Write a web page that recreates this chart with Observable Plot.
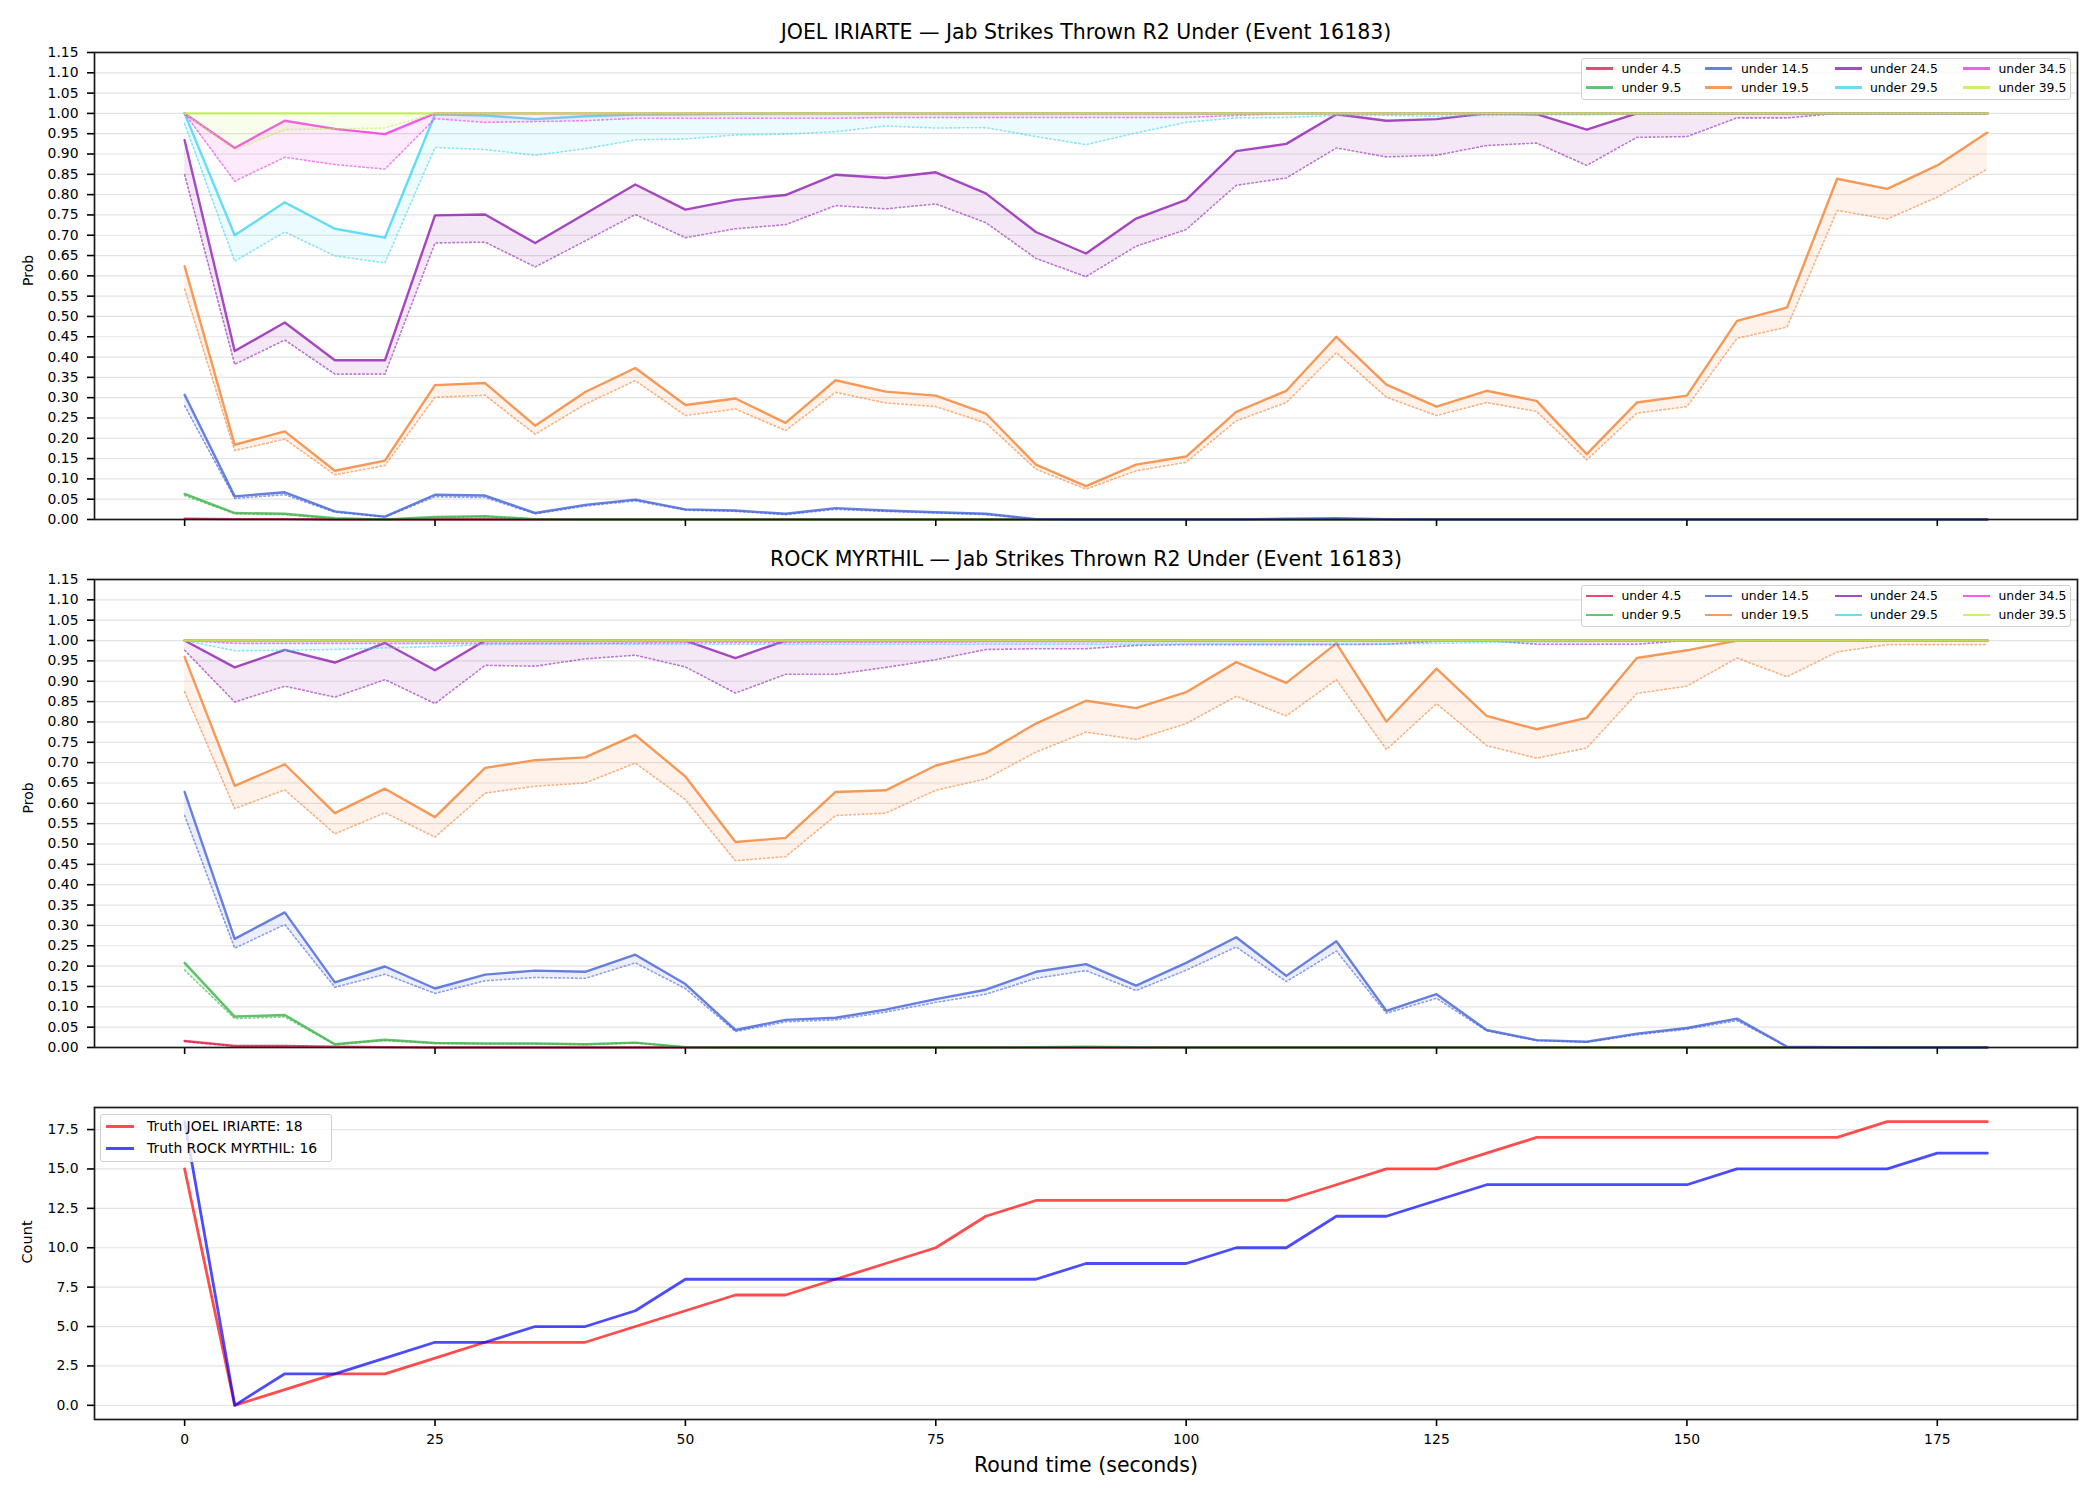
<!DOCTYPE html>
<html>
<head>
<meta charset="utf-8">
<script src="https://cdn.jsdelivr.net/npm/d3@7"></script>
<script src="https://cdn.jsdelivr.net/npm/@observablehq/plot@0.6"></script>
<style>
  body { margin: 0; background: #fff; }
  #root { position: relative; width: 2100px; height: 1500px; background: #fff; overflow: hidden; font-family: "DejaVu Sans", sans-serif; }
  .panel { position: absolute; left: 0; }
  .panel svg { display: block; }
  .legend-box { position: absolute; background: rgba(255,255,255,0.8); border: 1.5px solid #d0d0d0; border-radius: 3px; box-sizing: border-box; }
  .legend-line { position: absolute; height: 2.5px; }
  .legend-text { position: absolute; white-space: nowrap; line-height: 1; transform: translateY(-50%); color: #000; font-family: "DejaVu Sans", sans-serif; }
</style>
</head>
<body>
<div id="root"></div>
<script>
// ---------------- DATA ----------------
const roundTime = [0,5,10,15,20,25,30,35,40,45,50,55,60,65,70,75,80,85,90,95,100,105,110,115,120,125,130,135,140,145,150,155,160,165,170,175,180];
const seriesLabels = ["under 4.5","under 9.5","under 14.5","under 19.5","under 24.5","under 29.5","under 34.5","under 39.5"];
const xTicks = [0,25,50,75,100,125,150,175];
const probTicks = d3.range(0, 24).map(i => +(i * 0.05).toFixed(2));
const countTicks = [0,2.5,5,7.5,10,12.5,15,17.5];

const fighterA = "JOEL IRIARTE";
const fighterB = "ROCK MYRTHIL";
const marketName = "Jab Strikes Thrown R2 Under (Event 16183)";

// JOEL IRIARTE (top panel): solid = upper prob, dotted = lower prob
const joel_u4_5_hi  = [0.002,0.001,0.001,0,0,0,0,0,0,0, 0,0,0,0,0,0,0,0,0,0, 0,0,0,0,0,0,0,0,0,0, 0,0,0,0,0,0,0];
const joel_u4_5_lo  = [0.002,0.001,0.001,0,0,0,0,0,0,0, 0,0,0,0,0,0,0,0,0,0, 0,0,0,0,0,0,0,0,0,0, 0,0,0,0,0,0,0];
const joel_u9_5_hi  = [0.063,0.016,0.014,0.003,0.000,0.006,0.008,0.001,0,0, 0,0,0,0,0,0,0,0,0,0, 0,0,0,0,0,0,0,0,0,0, 0,0,0,0,0,0,0];
const joel_u9_5_lo  = [0.059,0.014,0.012,0.002,0.000,0.005,0.007,0.001,0,0, 0,0,0,0,0,0,0,0,0,0, 0,0,0,0,0,0,0,0,0,0, 0,0,0,0,0,0,0];
const joel_u14_5_hi = [0.307,0.057,0.067,0.020,0.007,0.061,0.059,0.016,0.036,0.049, 0.025,0.022,0.014,0.028,0.022,0.018,0.014,0.001,0,0, 0,0,0.002,0.003,0.001,0,0,0,0,0, 0,0,0,0,0,0,0];
const joel_u14_5_lo = [0.280,0.052,0.061,0.018,0.006,0.056,0.054,0.014,0.033,0.046, 0.023,0.020,0.012,0.025,0.020,0.016,0.012,0.001,0,0, 0,0,0.001,0.002,0,0,0,0,0,0, 0,0,0,0,0,0,0];
const joel_u19_5_hi = [0.624,0.184,0.217,0.120,0.145,0.331,0.336,0.231,0.314,0.373, 0.282,0.298,0.238,0.343,0.315,0.305,0.261,0.135,0.082,0.135, 0.155,0.265,0.317,0.450,0.332,0.278,0.317,0.292,0.161,0.288, 0.305,0.489,0.522,0.839,0.814,0.872,0.953];
const joel_u19_5_lo = [0.567,0.170,0.198,0.110,0.133,0.301,0.306,0.210,0.284,0.342, 0.256,0.272,0.219,0.313,0.287,0.278,0.238,0.124,0.075,0.120, 0.141,0.243,0.288,0.411,0.301,0.256,0.288,0.266,0.147,0.262, 0.278,0.446,0.474,0.761,0.740,0.794,0.863];
const joel_u24_5_hi = [0.934,0.415,0.485,0.392,0.392,0.749,0.751,0.681,0.753,0.825, 0.763,0.787,0.799,0.849,0.841,0.855,0.803,0.708,0.655,0.741, 0.787,0.907,0.925,0.998,0.982,0.986,1.0,0.998,0.960,1.0, 1,1,1,1,1,1,1];
const joel_u24_5_lo = [0.849,0.382,0.442,0.358,0.358,0.681,0.683,0.622,0.686,0.751, 0.694,0.716,0.726,0.773,0.765,0.777,0.731,0.643,0.598,0.673, 0.714,0.823,0.841,0.915,0.893,0.897,0.921,0.927,0.872,0.941, 0.943,0.989,0.989,1,1,1,1];
const joel_u29_5_hi = [1.0,0.700,0.781,0.716,0.694,0.998,0.995,0.986,0.993,0.997, 0.998,0.999,1,1,1,1,1,1,1,1, 1,1,1,1,1,1,1,1,1,1, 1,1,1,1,1,1,1];
const joel_u29_5_lo = [0.975,0.636,0.708,0.649,0.632,0.916,0.911,0.897,0.913,0.935, 0.937,0.947,0.949,0.955,0.969,0.964,0.965,0.943,0.923,0.952, 0.978,0.989,0.990,0.995,0.995,0.993,0.995,0.997,0.997,0.998, 1,1,1,1,1,1,1];
const joel_u34_5_hi = [1.0,0.915,0.982,0.962,0.949,1,1,1,1,1, 1,1,1,1,1,1,1,1,1,1, 1,1,1,1,1,1,1,1,1,1, 1,1,1,1,1,1,1];
const joel_u34_5_lo = [1.0,0.833,0.892,0.874,0.863,0.987,0.978,0.980,0.982,0.988, 0.988,0.988,0.988,0.988,0.990,0.990,0.990,0.990,0.990,0.990, 0.990,0.995,1,1,1,1,1,1,1,1, 1,1,1,1,1,1,1];
const joel_u39_5_hi = [1,1,1,1,1,1,1,1,1,1, 1,1,1,1,1,1,1,1,1,1, 1,1,1,1,1,1,1,1,1,1, 1,1,1,1,1,1,1];
const joel_u39_5_lo = [1.0,0.911,0.960,0.962,0.964,1,1,1,1,1, 1,1,1,1,1,1,1,1,1,1, 1,1,1,1,1,1,1,1,1,1, 1,1,1,1,1,1,1];

// ROCK MYRTHIL (middle panel)
const rock_u4_5_hi  = [0.016,0.004,0.004,0.002,0.001,0,0,0,0,0, 0,0,0,0,0,0,0,0,0,0, 0,0,0,0,0,0,0,0,0,0, 0,0,0,0,0,0,0];
const rock_u4_5_lo  = [0.015,0.003,0.003,0.001,0.001,0,0,0,0,0, 0,0,0,0,0,0,0,0,0,0, 0,0,0,0,0,0,0,0,0,0, 0,0,0,0,0,0,0];
const rock_u9_5_hi  = [0.208,0.076,0.080,0.008,0.019,0.011,0.010,0.010,0.008,0.012, 0.001,0,0,0,0,0,0,0.001,0.002,0.001, 0,0,0,0,0,0,0,0,0,0, 0,0,0,0,0,0,0];
const rock_u9_5_lo  = [0.190,0.071,0.075,0.007,0.017,0.010,0.009,0.009,0.007,0.011, 0.001,0,0,0,0,0,0,0,0.001,0, 0,0,0,0,0,0,0,0,0,0, 0,0,0,0,0,0,0];
const rock_u14_5_hi = [0.628,0.267,0.332,0.160,0.199,0.145,0.179,0.189,0.186,0.228, 0.156,0.043,0.068,0.073,0.093,0.119,0.142,0.186,0.205,0.152, 0.208,0.271,0.176,0.261,0.090,0.131,0.043,0.018,0.014,0.034, 0.048,0.071,0.002,0.001,0,0,0];
const rock_u14_5_lo = [0.570,0.244,0.302,0.148,0.180,0.133,0.164,0.172,0.170,0.208, 0.145,0.039,0.063,0.068,0.087,0.111,0.131,0.170,0.189,0.140, 0.190,0.247,0.162,0.237,0.084,0.121,0.041,0.017,0.013,0.031, 0.045,0.066,0.002,0.001,0,0,0];
const rock_u19_5_hi = [0.960,0.643,0.696,0.576,0.636,0.566,0.687,0.706,0.713,0.768, 0.666,0.505,0.515,0.628,0.632,0.693,0.724,0.796,0.852,0.834, 0.873,0.947,0.896,0.993,0.801,0.931,0.815,0.782,0.810,0.957, 0.976,1,1,1,1,1,1];
const rock_u19_5_lo = [0.874,0.587,0.633,0.525,0.577,0.517,0.625,0.642,0.650,0.699, 0.609,0.459,0.469,0.570,0.576,0.632,0.660,0.726,0.775,0.757, 0.796,0.863,0.815,0.904,0.732,0.845,0.742,0.711,0.736,0.870, 0.888,0.957,0.911,0.972,0.990,0.990,0.990];
const rock_u24_5_hi = [1.0,0.934,0.977,0.946,0.994,0.927,1,1,1,1, 1,0.957,1,1,1,1,1,1,1,1, 1,1,1,1,1,1,1,1,1,1, 1,1,1,1,1,1,1];
const rock_u24_5_lo = [0.976,0.849,0.888,0.861,0.904,0.845,0.939,0.937,0.955,0.964, 0.935,0.871,0.917,0.917,0.934,0.953,0.978,0.980,0.980,0.988, 0.990,0.990,0.990,0.990,0.991,0.998,1,0.991,0.991,0.991, 1,1,1,1,1,1,1];
const rock_u29_5_hi = [1,1,1,1,1,1,1,1,1,1, 1,1,1,1,1,1,1,1,1,1, 1,1,1,1,1,1,1,1,1,1, 1,1,1,1,1,1,1];
const rock_u29_5_lo = [1.0,0.975,0.976,0.978,0.982,0.985,0.990,0.991,0.991,0.991, 0.991,0.991,0.991,0.991,0.991,0.991,0.991,0.991,0.991,0.991, 0.991,0.991,0.991,0.991,0.991,0.993,0.995,0.997,0.998,0.999, 1,1,1,1,1,1,1];
const rock_u34_5_hi = [1,1,1,1,1,1,1,1,1,1, 1,1,1,1,1,1,1,1,1,1, 1,1,1,1,1,1,1,1,1,1, 1,1,1,1,1,1,1];
const rock_u34_5_lo = [1.0,0.993,0.993,0.993,0.993,0.993,0.993,0.993,0.993,0.994, 0.995,0.995,0.995,0.996,0.996,0.996,0.997,0.997,0.997,0.998, 0.998,0.998,0.998,0.999,0.999,0.999,1,1,1,1, 1,1,1,1,1,1,1];
const rock_u39_5_hi = [1,1,1,1,1,1,1,1,1,1, 1,1,1,1,1,1,1,1,1,1, 1,1,1,1,1,1,1,1,1,1, 1,1,1,1,1,1,1];
const rock_u39_5_lo = [1,1,1,1,1,1,1,1,1,1, 1,1,1,1,1,1,1,1,1,1, 1,1,1,1,1,1,1,1,1,1, 1,1,1,1,1,1,1];

// Truth counts (bottom panel)
const truthJoel = [15,0,1,2,2,3,4,4,4,5, 6,7,7,8,9,10,12,13,13,13, 13,13,13,14,15,15,16,17,17,17, 17,17,17,17,18,18,18];
const truthRock = [18,0,2,2,3,4,4,5,5,6, 8,8,8,8,8,8,8,8,9,9, 9,10,10,12,12,13,14,14,14,14, 14,15,15,15,15,16,16];
const truthFinalJoel = 18;
const truthFinalRock = 16;

// ---------------- STYLE ----------------
const palette = ["#e6194b","#3cb44b","#4363d8","#f58231","#911eb4","#42d4f4","#f032e6","#bfef45"];
const FONT = "DejaVu Sans";
const W = 2100, ML = 94, MR = 23;

const joelHi = [joel_u4_5_hi, joel_u9_5_hi, joel_u14_5_hi, joel_u19_5_hi, joel_u24_5_hi, joel_u29_5_hi, joel_u34_5_hi, joel_u39_5_hi];
const joelLo = [joel_u4_5_lo, joel_u9_5_lo, joel_u14_5_lo, joel_u19_5_lo, joel_u24_5_lo, joel_u29_5_lo, joel_u34_5_lo, joel_u39_5_lo];
const rockHi = [rock_u4_5_hi, rock_u9_5_hi, rock_u14_5_hi, rock_u19_5_hi, rock_u24_5_hi, rock_u29_5_hi, rock_u34_5_hi, rock_u39_5_hi];
const rockLo = [rock_u4_5_lo, rock_u9_5_lo, rock_u14_5_lo, rock_u19_5_lo, rock_u24_5_lo, rock_u29_5_lo, rock_u34_5_lo, rock_u39_5_lo];

const root = document.getElementById("root");

function addPanel(svg, top) {
  const d = document.createElement("div");
  d.className = "panel";
  d.style.top = top + "px";
  d.appendChild(svg);
  root.appendChild(d);
}

function probPanel(title, hiArr, loArr, height, mt, mb) {
  const marks = [
    Plot.gridY({ticks: probTicks, stroke: "#e3e3e3", strokeOpacity: 1, strokeWidth: 1.2})
  ];
  seriesLabels.forEach((lab, k) => {
    const rows = roundTime.map((t, i) => ({t, hi: hiArr[k][i], lo: loArr[k][i]}));
    marks.push(Plot.line(rows, {x: "t", y: "hi", stroke: palette[k], strokeOpacity: 0.8, strokeWidth: 2.4}));
    marks.push(Plot.line(rows, {x: "t", y: "lo", stroke: palette[k], strokeOpacity: 0.6, strokeWidth: 1.6, strokeDasharray: "1.6,2.6"}));
    marks.push(Plot.areaY(rows, {x: "t", y1: "lo", y2: "hi", fill: palette[k], fillOpacity: 0.1}));
  });
  marks.push(
    Plot.axisY({ticks: probTicks, tickFormat: d => d.toFixed(2), tickSize: 7, tickPadding: 9, label: null, fontSize: 13.9, strokeWidth: 1.6}),
    Plot.axisX({ticks: xTicks, tickFormat: () => "", tickSize: 7, label: null, strokeWidth: 1.6}),
    Plot.frame({stroke: "#1a1a1a", strokeWidth: 1.7}),
    Plot.text([title], {text: d => d, frameAnchor: "top", dy: -20, fontSize: 20.5, lineAnchor: "middle", fill: "#000"}),
    Plot.text(["Prob"], {text: d => d, frameAnchor: "left", dx: -66, rotate: -90, fontSize: 14, fill: "#000"})
  );
  return Plot.plot({
    width: W, height, marginTop: mt, marginBottom: mb, marginLeft: ML, marginRight: MR,
    x: {domain: [-9, 189]},
    y: {domain: [0, 1.15]},
    style: {fontFamily: FONT, fontSize: "13.9px", background: "white", color: "#000", overflow: "visible"},
    marks
  });
}

function countPanel(height, mt, mb) {
  const rows = roundTime.map((t, i) => ({t, a: truthJoel[i], b: truthRock[i]}));
  return Plot.plot({
    width: W, height, marginTop: mt, marginBottom: mb, marginLeft: ML, marginRight: MR,
    x: {domain: [-9, 189]},
    y: {domain: [-0.9, 18.9]},
    style: {fontFamily: FONT, fontSize: "13.9px", background: "white", color: "#000", overflow: "visible"},
    marks: [
      Plot.gridY({ticks: countTicks, stroke: "#e3e3e3", strokeOpacity: 1, strokeWidth: 1.2}),
      Plot.line(rows, {x: "t", y: "a", stroke: "#ff0000", strokeOpacity: 0.7, strokeWidth: 2.8}),
      Plot.line(rows, {x: "t", y: "b", stroke: "#0000ff", strokeOpacity: 0.7, strokeWidth: 2.8}),
      Plot.axisY({ticks: countTicks, tickFormat: d => d.toFixed(1), tickSize: 7, tickPadding: 9, label: null, fontSize: 13.9, strokeWidth: 1.6}),
      Plot.axisX({ticks: xTicks, tickFormat: d => String(d), tickSize: 7, tickPadding: 8, label: null, fontSize: 13.9, strokeWidth: 1.6}),
      Plot.frame({stroke: "#1a1a1a", strokeWidth: 1.7}),
      Plot.text(["Count"], {text: d => d, frameAnchor: "left", dx: -67, rotate: -90, fontSize: 14.5, fill: "#000"}),
      Plot.text(["Round time (seconds)"], {text: d => d, frameAnchor: "bottom", dy: 46, fontSize: 20.5, lineAnchor: "middle", fill: "#000"})
    ]
  });
}

addPanel(probPanel(`${fighterA} — ${marketName}`, joelHi, joelLo, 548, 52, 29), 0);
addPanel(probPanel(`${fighterB} — ${marketName}`, rockHi, rockLo, 528, 31, 29), 548);
addPanel(countPanel(424, 31, 81), 1076);

// ---------------- LEGENDS (HTML overlays) ----------------
function el(cls, css, txt) {
  const d = document.createElement("div");
  d.className = cls;
  Object.assign(d.style, css);
  if (txt != null) d.textContent = txt;
  root.appendChild(d);
  return d;
}

function probLegend(frameTop) {
  const dy = frameTop - 51.7;
  el("legend-box", {left: "1581px", top: (58 + dy) + "px", width: "490px", height: "42px"});
  const lineX = [1585.7, 1705, 1834.6, 1963];
  const textX = [1621.4, 1741, 1870, 1998.5];
  const rowY = [68.7, 87.7];
  seriesLabels.forEach((lab, k) => {
    const col = k >> 1, row = k & 1;
    const cy = rowY[row] + dy;
    el("legend-line", {left: lineX[col] + "px", top: (cy - 1.25) + "px", width: "27px", background: palette[k], opacity: 0.8});
    el("legend-text", {left: textX[col] + "px", top: cy + "px", fontSize: "12.4px"}, lab);
  });
}
probLegend(51.7);
probLegend(579);

(function countLegend() {
  el("legend-box", {left: "100px", top: "1114px", width: "232px", height: "48px"});
  const items = [
    {lab: `Truth ${fighterA}: ${truthFinalJoel}`, c: "#ff0000", y: 1126.7},
    {lab: `Truth ${fighterB}: ${truthFinalRock}`, c: "#0000ff", y: 1148.7}
  ];
  items.forEach(it => {
    el("legend-line", {left: "106px", top: (it.y - 1.4) + "px", width: "28px", height: "2.8px", background: it.c, opacity: 0.7});
    el("legend-text", {left: "147px", top: it.y + "px", fontSize: "13.9px"}, it.lab);
  });
})();
</script>
</body>
</html>
